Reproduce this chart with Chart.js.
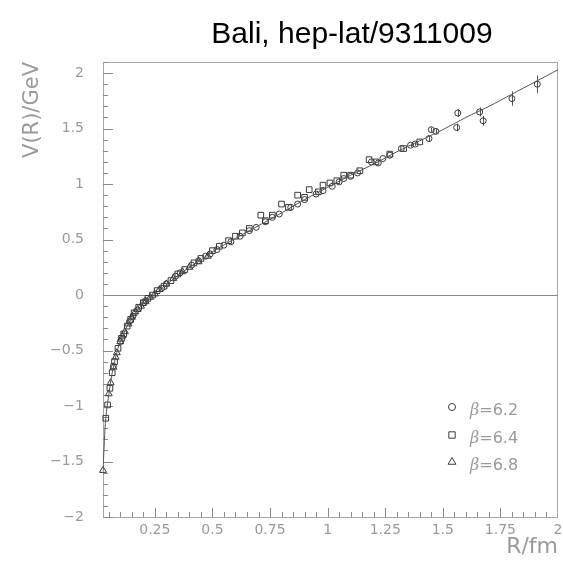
<!DOCTYPE html>
<html>
<head>
<meta charset="utf-8">
<script src="https://cdn.jsdelivr.net/npm/chart.js@4"></script>
<style>
  html, body { margin: 0; padding: 0; background: #fff; }
</style>
</head>
<body>
<canvas id="potChart" width="563" height="563"></canvas>
<script>
// fit curve V(R)
const curveR = [0.025, 0.03, 0.035, 0.04, 0.045, 0.05, 0.055, 0.06, 0.065, 0.07, 0.08, 0.09, 0.1, 0.11, 0.125, 0.14, 0.16, 0.18, 0.2, 0.225, 0.25, 0.28, 0.31, 0.34, 0.4, 0.46, 0.5, 0.6, 0.7, 0.8, 0.9, 1.0, 1.1, 1.2, 1.3, 1.4, 1.5, 1.6, 1.7, 1.8, 1.9, 2.0];
const curveV = [-1.58, -1.36, -1.16, -1.05, -0.97, -0.90, -0.83, -0.76, -0.70, -0.65, -0.56, -0.48, -0.42, -0.37, -0.30, -0.24, -0.17, -0.12, -0.08, -0.03, 0.01, 0.06, 0.11, 0.16, 0.25, 0.33, 0.39, 0.51, 0.625, 0.74, 0.86, 0.97, 1.08, 1.18, 1.29, 1.39, 1.49, 1.60, 1.70, 1.81, 1.92, 2.03];

// beta = 6.2 (circles)
const b62R = [0.07, 0.1, 0.14, 0.155, 0.2, 0.21, 0.28, 0.3, 0.34, 0.36, 0.41, 0.44, 0.47, 0.49, 0.52, 0.55, 0.58, 0.62, 0.66, 0.69, 0.73, 0.76, 0.79, 0.84, 0.87, 0.9, 0.95, 0.98, 1.02, 1.05, 1.07, 1.1, 1.13, 1.19, 1.22, 1.24, 1.27, 1.32, 1.36, 1.38, 1.44, 1.45, 1.47, 1.56, 1.565, 1.66, 1.675, 1.8, 1.91];
const b62V = [-0.64, -0.42, -0.24, -0.19, -0.07, -0.05, 0.06, 0.10, 0.17, 0.20, 0.27, 0.31, 0.35, 0.37, 0.41, 0.45, 0.48, 0.53, 0.58, 0.61, 0.66, 0.70, 0.73, 0.79, 0.82, 0.86, 0.91, 0.94, 0.98, 1.02, 1.05, 1.07, 1.10, 1.20, 1.19, 1.23, 1.26, 1.32, 1.35, 1.36, 1.41, 1.49, 1.475, 1.51, 1.64, 1.65, 1.57, 1.77, 1.90];
const b62Err = [0, 0, 0, 0, 0, 0, 0, 0, 0, 0, 0, 0, 0, 0, 0, 0, 0, 0, 0, 0, 0, 0, 0, 0, 0, 0, 0, 0, 0, 0, 0, 0, 0, 0, 0, 0, 0, 0, 0.015, 0.015, 0.025, 0.02, 0.02, 0.035, 0.035, 0.04, 0.045, 0.065, 0.08];

// beta = 6.4 (squares)
const b64R = [0.037, 0.045, 0.055, 0.065, 0.075, 0.09, 0.105, 0.115, 0.13, 0.145, 0.16, 0.18, 0.2, 0.22, 0.24, 0.26, 0.29, 0.32, 0.35, 0.38, 0.42, 0.45, 0.5, 0.53, 0.57, 0.6, 0.63, 0.66, 0.71, 0.73, 0.76, 0.8, 0.83, 0.87, 0.9, 0.92, 0.96, 0.98, 1.01, 1.04, 1.07, 1.1, 1.14, 1.18, 1.21, 1.27, 1.33, 1.4];
const b64V = [-1.11, -0.99, -0.84, -0.70, -0.60, -0.48, -0.39, -0.35, -0.28, -0.22, -0.16, -0.11, -0.07, -0.03, 0.0, 0.04, 0.08, 0.13, 0.19, 0.23, 0.29, 0.33, 0.40, 0.44, 0.49, 0.53, 0.56, 0.60, 0.72, 0.67, 0.72, 0.82, 0.79, 0.90, 0.88, 0.95, 0.93, 0.99, 1.01, 1.03, 1.08, 1.08, 1.12, 1.22, 1.20, 1.27, 1.32, 1.38];

// beta = 6.8 (triangles)
const b68R = [0.025, 0.05, 0.058, 0.07, 0.08, 0.085, 0.1, 0.11, 0.12, 0.135, 0.15, 0.165, 0.175, 0.19, 0.21, 0.23, 0.25, 0.27, 0.3, 0.33, 0.37, 0.4, 0.44, 0.48];
const b68V = [-1.58, -0.89, -0.79, -0.65, -0.56, -0.52, -0.42, -0.37, -0.33, -0.26, -0.20, -0.15, -0.13, -0.10, -0.06, -0.02, 0.01, 0.05, 0.10, 0.15, 0.21, 0.25, 0.30, 0.35];

const xTicks = [0.25, 0.5, 0.75, 1, 1.25, 1.5, 1.75, 2];
const yTicks = [-2, -1.5, -1, -0.5, 0, 0.5, 1, 1.5, 2];
const seriesLabels = ['β=6.2', 'β=6.4', 'β=6.8'];

const toXY = (rs, vs) => rs.map((r, i) => ({ x: r, y: vs[i] }));
const fmt = v => String(v).replace('-', '\u2212');

const GRAY = '#9a9a9a';
const MARK = '#3a3a3a';

// frame, inward ticks, zero line, error bars, legend, title
const framePlugin = {
  id: 'frame',
  beforeDatasetsDraw(chart) {
    const { ctx, chartArea: a, scales: { x, y } } = chart;
    ctx.save();
    ctx.strokeStyle = '#a8a8a8';
    ctx.lineWidth = 1;
    ctx.strokeRect(a.left + 0.5, a.top + 0.5, a.right - a.left - 1, a.bottom - a.top);

    // zero line
    const y0 = Math.round(y.getPixelForValue(0)) + 0.5;
    ctx.strokeStyle = '#8a8a8a';
    ctx.beginPath(); ctx.moveTo(a.left, y0); ctx.lineTo(a.right, y0); ctx.stroke();

    // ticks on left and bottom axes, pointing inward
    ctx.beginPath();
    for (let k = -20; k <= 21; k++) {
      const py = Math.round(y.getPixelForValue(k / 10)) + 0.5;
      if (py < a.top || py > a.bottom + 1) continue;
      const len = (k % 5 === 0) ? 10 : 5;
      ctx.moveTo(a.left, py); ctx.lineTo(a.left + len, py);
    }
    for (let k = 1; k <= 40; k++) {
      const px = Math.round(x.getPixelForValue(k / 20)) + 0.5;
      if (px < a.left || px > a.right) continue;
      const len = (k % 5 === 0) ? 9 : 5;
      ctx.moveTo(px, a.bottom); ctx.lineTo(px, a.bottom - len);
    }
    ctx.stroke();

    // error bars for beta=6.2
    ctx.strokeStyle = '#555';
    ctx.beginPath();
    b62R.forEach((r, i) => {
      if (!b62Err[i]) return;
      const px = Math.round(x.getPixelForValue(r)) + 0.5;
      ctx.moveTo(px, y.getPixelForValue(b62V[i] - b62Err[i]));
      ctx.lineTo(px, y.getPixelForValue(b62V[i] + b62Err[i]));
    });
    ctx.stroke();
    ctx.restore();
  },
  afterDraw(chart) {
    const { ctx } = chart;
    ctx.save();
    // title
    ctx.fillStyle = '#000';
    ctx.font = '30px "Liberation Sans", Arial, sans-serif';
    ctx.textAlign = 'center';
    ctx.textBaseline = 'alphabetic';
    ctx.fillText('Bali, hep-lat/9311009', 352, 43);

    // legend
    const styles = ['circle', 'rect', 'triangle'];
    const radii = [3.5, 4.5, 4.5];
    const rows = [407, 435, 462];
    seriesLabels.forEach((lab, i) => {
      ctx.strokeStyle = MARK;
      ctx.fillStyle = 'rgba(0,0,0,0)';
      ctx.lineWidth = 1;
      Chart.helpers.drawPoint(ctx, { pointStyle: styles[i], radius: radii[i], borderWidth: 1, rotation: 0 }, 452, rows[i]);
      ctx.fillStyle = GRAY;
      ctx.textAlign = 'left';
      ctx.textBaseline = 'middle';
      ctx.font = 'italic 16px "DejaVu Serif", serif';
      ctx.fillText(lab[0], 470, rows[i] + 4);
      const w = ctx.measureText(lab[0]).width;
      ctx.font = '16px "DejaVu Sans", sans-serif';
      ctx.fillText(lab.slice(1), 470 + w, rows[i] + 4);
    });
    ctx.restore();
  }
};

const pointDs = (label, rs, vs, style, radius) => ({
  label,
  data: toXY(rs, vs),
  pointStyle: style,
  pointRadius: radius,
  pointHoverRadius: radius,
  pointBorderColor: MARK,
  pointBackgroundColor: 'rgba(0,0,0,0)',
  pointBorderWidth: 1,
  showLine: false,
  clip: false
});

new Chart(document.getElementById('potChart'), {
  type: 'scatter',
  data: {
    datasets: [
      {
        label: 'fit',
        data: toXY(curveR, curveV),
        showLine: true,
        borderColor: '#555',
        borderWidth: 1,
        pointRadius: 0,
        tension: 0.3,
        fill: false
      },
      pointDs(seriesLabels[0], b62R, b62V, 'circle', 3),
      pointDs(seriesLabels[1], b64R, b64V, 'rect', 4),
      pointDs(seriesLabels[2], b68R, b68V, 'triangle', 4)
    ]
  },
  options: {
    responsive: false,
    animation: false,
    layout: { padding: { left: 0, right: 5, top: 62, bottom: 0 } },
    plugins: { legend: { display: false }, tooltip: { enabled: false } },
    scales: {
      x: {
        type: 'linear',
        min: 0.025,
        max: 2,
        afterBuildTicks: s => { s.ticks = xTicks.map(v => ({ value: v })); },
        afterFit: s => { s.height = 46; },
        grid: { display: false },
        border: { display: false },
        ticks: {
          padding: -3,
          color: GRAY,
          font: { family: '"DejaVu Sans", sans-serif', size: 14 },
          callback: v => fmt(v),
          maxRotation: 0,
          autoSkip: false
        },
        title: {
          display: true,
          text: 'R/fm',
          align: 'end',
          color: GRAY,
          font: { family: '"DejaVu Sans", sans-serif', size: 22 },
          padding: { top: 0, bottom: 3 }
        }
      },
      y: {
        type: 'linear',
        min: -2,
        max: 2.1,
        afterBuildTicks: s => { s.ticks = yTicks.map(v => ({ value: v })); },
        afterFit: s => { s.width = 103; },
        grid: { display: false },
        border: { display: false },
        ticks: {
          padding: 11,
          color: GRAY,
          font: { family: '"DejaVu Sans", sans-serif', size: 14 },
          callback: v => fmt(v),
          autoSkip: false
        },
        title: {
          display: true,
          text: 'V(R)/GeV',
          align: 'end',
          color: GRAY,
          font: { family: '"DejaVu Sans", sans-serif', size: 21 },
          padding: { top: 20, bottom: 0 }
        }
      }
    }
  },
  plugins: [framePlugin]
});
</script>
</body>
</html>
